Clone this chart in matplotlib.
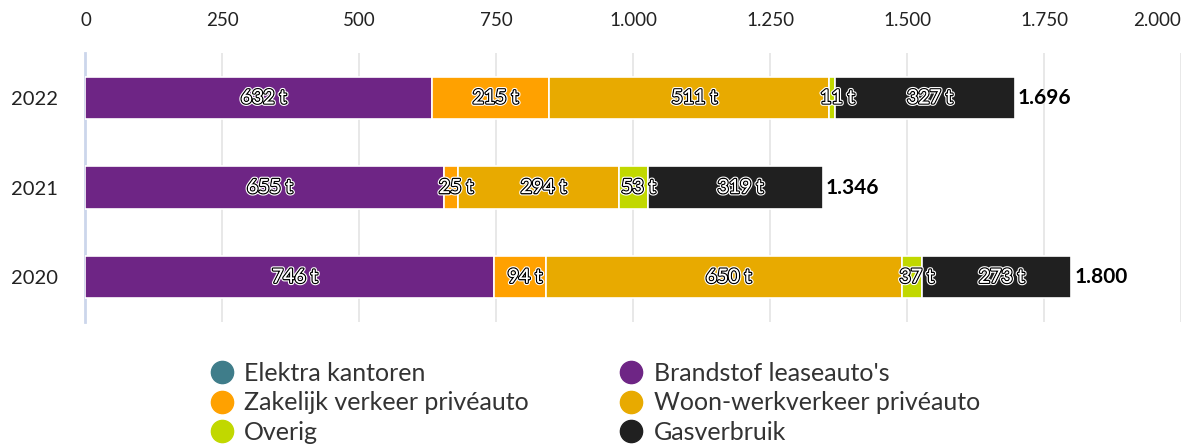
import matplotlib.pyplot as plt
import matplotlib.patheffects as pe
import numpy as np

plt.rcParams['font.family'] = ['Lato', 'DejaVu Sans']

# data (tonnes CO2)
years = ["2022", "2021", "2020"]
series = ["Elektra kantoren", "Brandstof leaseauto's", "Zakelijk verkeer privéauto",
          "Woon-werkverkeer privéauto", "Overig", "Gasverbruik"]
colors = ["#3f7d8a", "#6e2585", "#ffa100", "#e8aa00", "#c1d800", "#202020"]
elektra = [0, 0, 0]
brandstof = [632, 655, 746]
zakelijk = [215, 25, 94]
woonwerk = [511, 294, 650]
overig = [11, 53, 37]
gas = [327, 319, 273]
ticks = [0, 250, 500, 750, 1000, 1250, 1500, 1750, 2000]
tick_labels = ["0", "250", "500", "750", "1.000", "1.250", "1.500", "1.750", "2.000"]

values = [elektra, brandstof, zakelijk, woonwerk, overig, gas]

fig = plt.figure(figsize=(11.89, 4.46), dpi=100)
ax = fig.add_axes([0.0719, 0.278, 0.9214, 0.603])

y = np.arange(len(years))
left = np.zeros(len(years))
outline = [pe.withStroke(linewidth=3.5, foreground="white"),
           pe.withStroke(linewidth=1.9, foreground="black"),
           pe.Normal()]
for name, vals, col in zip(series, values, colors):
    vals = np.array(vals, dtype=float)
    ax.barh(y, vals, left=left, height=0.47, color=col, edgecolor="white",
            linewidth=1.2, label=name, zorder=3)
    for yi, v, l in zip(y, vals, left):
        if v > 0:
            ax.annotate(f"{int(v)} t", (l + v / 2, yi), xytext=(5, 0),
                        textcoords="offset pixels", ha="center", va="center",
                        color="white", fontsize=14, zorder=5, path_effects=outline)
    left += vals

totals = left
for yi, t in zip(y, totals):
    ax.annotate(f"{int(t):,}".replace(",", "."), (t, yi), xytext=(2, 0),
                textcoords="offset points", ha="left", va="center",
                fontsize=15, fontweight="bold", color="black", zorder=5)

ax.set_xlim(0, 2000)
ax.set_ylim(len(years) - 0.5, -0.5)
ax.xaxis.tick_top()
ax.set_yticks(y)
ax.set_yticklabels(years, fontsize=14.5, color="#222222")
ax.set_xticks(ticks)
ax.set_xticklabels(tick_labels, fontsize=13.5, color="#222222")
ax.tick_params(axis="x", length=0, pad=17)
ax.tick_params(axis="y", length=0, pad=20)
ax.grid(axis="x", color="#e6e6e6", linewidth=1.3, zorder=0)
for s in ["top", "right", "bottom"]:
    ax.spines[s].set_visible(False)
ax.spines["left"].set_color("#ccd6eb")
ax.spines["left"].set_linewidth(2)

# legend: rows are (Elektra, Brandstof), (Zakelijk, Woon-werk), (Overig, Gas)
order = [0, 2, 4, 1, 3, 5]
leg_handles = [plt.Line2D([], [], marker="o", linestyle="", markersize=16,
                          markerfacecolor=colors[i], markeredgecolor=colors[i]) for i in order]
leg_labels = [series[i] for i in order]
fig.legend(leg_handles, leg_labels, ncol=2, loc="upper left",
           bbox_to_anchor=(0.176, 0.189), frameon=False, fontsize=18,
           handlelength=1.0, handletextpad=0.4, columnspacing=3.58,
           labelspacing=0.27, borderaxespad=0, borderpad=0,
           labelcolor="#333333")

fig.canvas.draw()
ax.get_xticklabels()[-1].set_horizontalalignment("right")
fig.savefig("out.png", dpi=100)
